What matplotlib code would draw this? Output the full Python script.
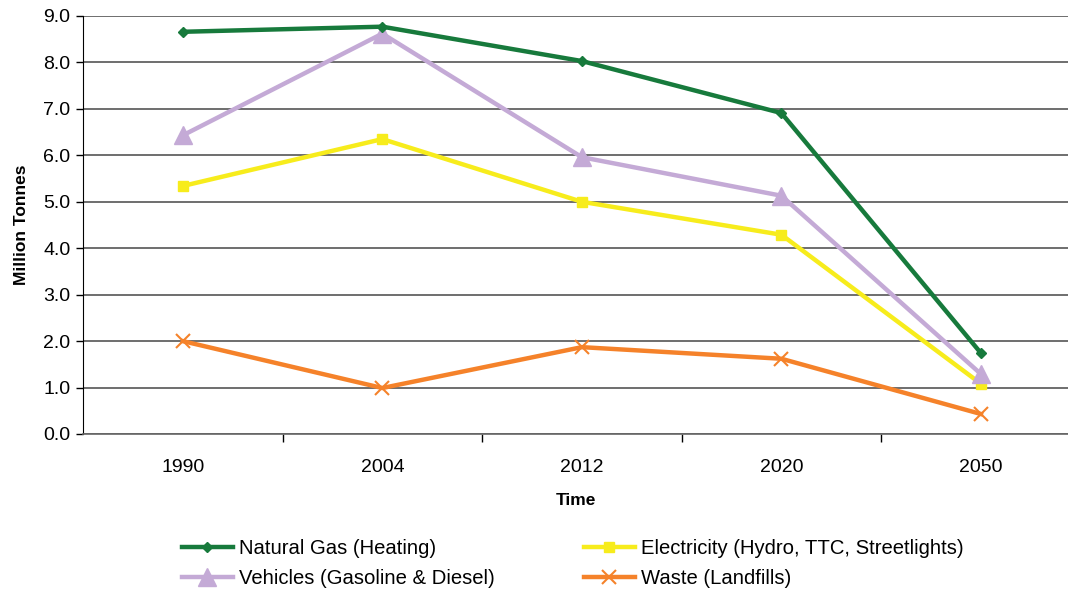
import numpy as np
import matplotlib
matplotlib.use('Agg')
import matplotlib.pyplot as plt
from matplotlib.ticker import FixedLocator

years = ['1990', '2004', '2012', '2020', '2050']
natural_gas = [8.66, 8.77, 8.03, 6.91, 1.74]
vehicles = [6.43, 8.62, 5.96, 5.13, 1.29]
electricity = [5.34, 6.35, 5.0, 4.29, 1.08]
waste = [2.0, 0.99, 1.87, 1.62, 0.43]

plt.rcParams['font.family'] = ['Liberation Sans', 'DejaVu Sans']

fig = plt.figure(figsize=(10.68, 5.92), dpi=100)
ax = fig.add_axes([83 / 1068, 1 - 434 / 592, 1 - 83 / 1068, 418 / 592])

x = np.arange(len(years))
ax.plot(x, natural_gas, color='#177a3c', lw=3.2, marker='D', ms=5,
        label='Natural Gas (Heating)', zorder=5)
ax.plot(x, vehicles, color='#c4aad6', lw=3.2, marker='^', ms=13,
        label='Vehicles (Gasoline & Diesel)', zorder=4)
ax.plot(x, electricity, color='#f7ec1c', lw=3.2, marker='s', ms=7,
        label='Electricity (Hydro, TTC, Streetlights)', zorder=3)
ax.plot(x, waste, color='#f5822a', lw=3.2, marker='x', ms=10, mew=1.5,
        label='Waste (Landfills)', zorder=2)

ax.set_xlim(-0.5, (1068 - 183) / 199.5)
ax.set_ylim(0, 9)
ax.set_yticks(np.arange(0, 9.01, 1.0))
ax.set_yticklabels(['%.1f' % v for v in np.arange(0, 9.01, 1.0)], fontsize=14)
ax.set_xticks(x)
ax.set_xticklabels(years, fontsize=14)
ax.tick_params(axis='x', which='major', length=0, pad=18)
ax.xaxis.set_minor_locator(FixedLocator([0.5, 1.5, 2.5, 3.5]))
ax.tick_params(axis='x', which='minor', length=6, width=1, color='black')
ax.tick_params(axis='y', length=5, width=1, color='black', pad=4)

ax.grid(axis='y', color='#555555', lw=1.2)
ax.set_axisbelow(True)
for s in ['top', 'right']:
    ax.spines[s].set_visible(False)
ax.spines['left'].set_color('black')
ax.spines['bottom'].set_color('#666666')
ax.spines['bottom'].set_linewidth(1.2)

ax.set_xlabel('Time', fontsize=12.5, fontweight='bold', labelpad=12)
ax.set_ylabel('Million Tonnes', fontsize=12.5, fontweight='bold', labelpad=10)

handles, labels = ax.get_legend_handles_labels()
fig.legend(handles, labels, ncol=2, loc='upper left',
           bbox_to_anchor=(172 / 1068, 1 - 529 / 592), frameon=False,
           fontsize=14.6, handlelength=2.5, handletextpad=0.3,
           columnspacing=4.4, labelspacing=0.55, borderpad=0)

fig.savefig('out.png', dpi=100)
